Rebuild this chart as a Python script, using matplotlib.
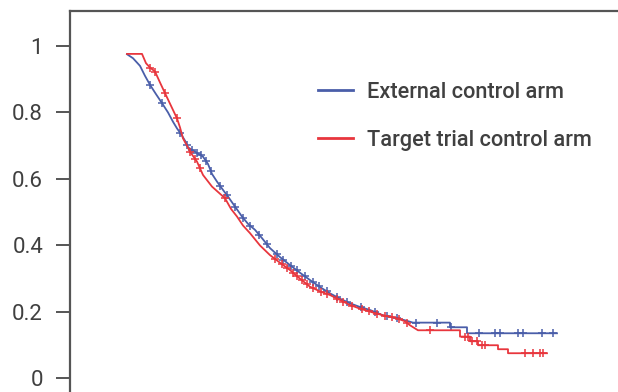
import numpy as np
import matplotlib
matplotlib.use("Agg")
import matplotlib.pyplot as plt

plt.rcParams['font.family'] = ['Roboto', 'DejaVu Sans']

# Kaplan-Meier style curves, time in months (no x axis shown)
ext_t = [0.0, 0.6, 1.3, 1.8, 2.3, 2.9, 3.5, 4.1, 4.6, 5.0, 5.4, 5.8, 6.1, 6.8, 7.6,
         8.1, 8.5, 9.0, 9.6, 10.1, 10.8, 11.5, 12.1, 12.8, 13.5, 14.3, 15.3, 16.3,
         17.3, 18.3, 19.3, 20.3, 21.3, 22.3, 23.3, 24.3, 25.6, 27.0, 27.8, 28.6,
         32.3, 32.3, 34.0, 34.0, 43.0]
ext_s = [0.975, 0.963, 0.94, 0.91, 0.883, 0.855, 0.828, 0.80, 0.772, 0.752, 0.735,
         0.715, 0.695, 0.682, 0.667, 0.645, 0.615, 0.592, 0.567, 0.547, 0.517, 0.487,
         0.465, 0.447, 0.422, 0.392, 0.365, 0.341, 0.318, 0.296, 0.275, 0.256, 0.24,
         0.226, 0.215, 0.206, 0.19, 0.181, 0.175, 0.168, 0.168, 0.154, 0.154, 0.136,
         0.136]
ext_cens = [2.3, 3.5, 5.3, 6.0, 6.5, 7.0, 7.4, 7.9, 8.4, 9.3, 10.0, 10.8, 11.6, 12.3,
            13.2, 14.0, 15.0, 15.6, 16.4, 17.0, 17.8, 18.6, 19.2, 20.0, 21.0, 22.0,
            23.4, 24.8, 26.0, 27.0, 28.9, 31.0, 32.4, 35.2, 36.8, 37.3, 39.1, 39.6,
            41.5, 42.6]

trial_t = [0.0, 1.5, 1.9, 2.3, 2.8, 3.3, 3.8, 4.4, 5.0, 5.3, 5.6, 6.0, 6.3, 7.0, 7.6,
           8.5, 9.8, 10.4, 11.0, 11.6, 12.3, 13.3, 14.3, 15.3, 16.3, 17.3, 18.3, 19.3,
           20.3, 21.3, 22.3, 23.3, 24.3, 25.6, 27.0, 27.8, 28.3, 29.1, 33.3, 33.3,
           34.3, 34.3, 35.1, 35.1, 37.1, 37.1, 38.1, 38.1, 42.0]
trial_s = [0.976, 0.976, 0.948, 0.935, 0.923, 0.89, 0.858, 0.82, 0.782, 0.755, 0.722,
           0.70, 0.682, 0.652, 0.612, 0.577, 0.542, 0.51, 0.487, 0.46, 0.437, 0.40,
           0.371, 0.348, 0.326, 0.30, 0.276, 0.262, 0.251, 0.236, 0.221, 0.21, 0.201,
           0.19, 0.181, 0.172, 0.16, 0.145, 0.145, 0.126, 0.126, 0.112, 0.112, 0.10,
           0.10, 0.088, 0.088, 0.076, 0.076]
trial_cens = [2.3, 2.8, 3.8, 5.0, 6.3, 6.8, 7.3, 9.8, 14.8, 15.5, 16.0, 16.6, 17.0,
              17.5, 18.0, 18.6, 19.4, 20.0, 21.0, 21.6, 22.5, 23.5, 24.2, 25.0, 25.8,
              26.5, 27.2, 28.0, 30.3, 33.8, 34.1, 34.5, 35.0, 35.5, 35.8, 39.8, 40.6,
              41.3, 41.6]

labels = ['External control arm', 'Target trial control arm']
colors = ['#4a5ea9', '#e8363d']
yticks = [0, 0.2, 0.4, 0.6, 0.8, 1]
ytick_labels = ['0', '0.2', '0.4', '0.6', '0.8', '1']

fig = plt.figure(figsize=(6.18, 3.92), dpi=100)
ax = fig.add_axes([70 / 618, 0.0, 548 / 618, 381 / 392])

curves = [(ext_t, ext_s, ext_cens), (trial_t, trial_s, trial_cens)]
handles = []
for (t, s, cens), lab, col in zip(curves, labels, colors):
    line, = ax.plot(t, s, color=col, lw=1.3, label=lab)
    ax.plot(cens, np.interp(cens, t, s), ls='none', marker='+', ms=6, mew=1.1,
            color=col)
    handles.append(line)

ax.set_xlim(-5.7, 49.1)
ax.set_ylim(-0.0406, 1.105)
ax.set_yticks(yticks)
ax.set_yticklabels(ytick_labels)
ax.set_xticks([])
for side in ['right', 'bottom']:
    ax.spines[side].set_visible(False)
for side in ['left', 'top']:
    ax.spines[side].set_color('#555555')
    ax.spines[side].set_linewidth(1.6)
ax.tick_params(axis='y', length=10, width=1.4, color='#555555', pad=9.4,
               labelsize=16, labelcolor='#404040')

leg = ax.legend(handles=handles, loc='upper left', bbox_to_anchor=(318 / 618, 1 - 82 / 392),
                bbox_transform=fig.transFigure, frameon=False, fontsize=15.7,
                handlelength=1.6, handletextpad=0.64, labelspacing=1.22,
                borderaxespad=0, borderpad=0)
for txt in leg.get_texts():
    txt.set_color('#404040')
    txt.set_fontweight('medium')
for h in leg.get_lines():
    h.set_linewidth(2)

fig.savefig('out.png', dpi=100)
